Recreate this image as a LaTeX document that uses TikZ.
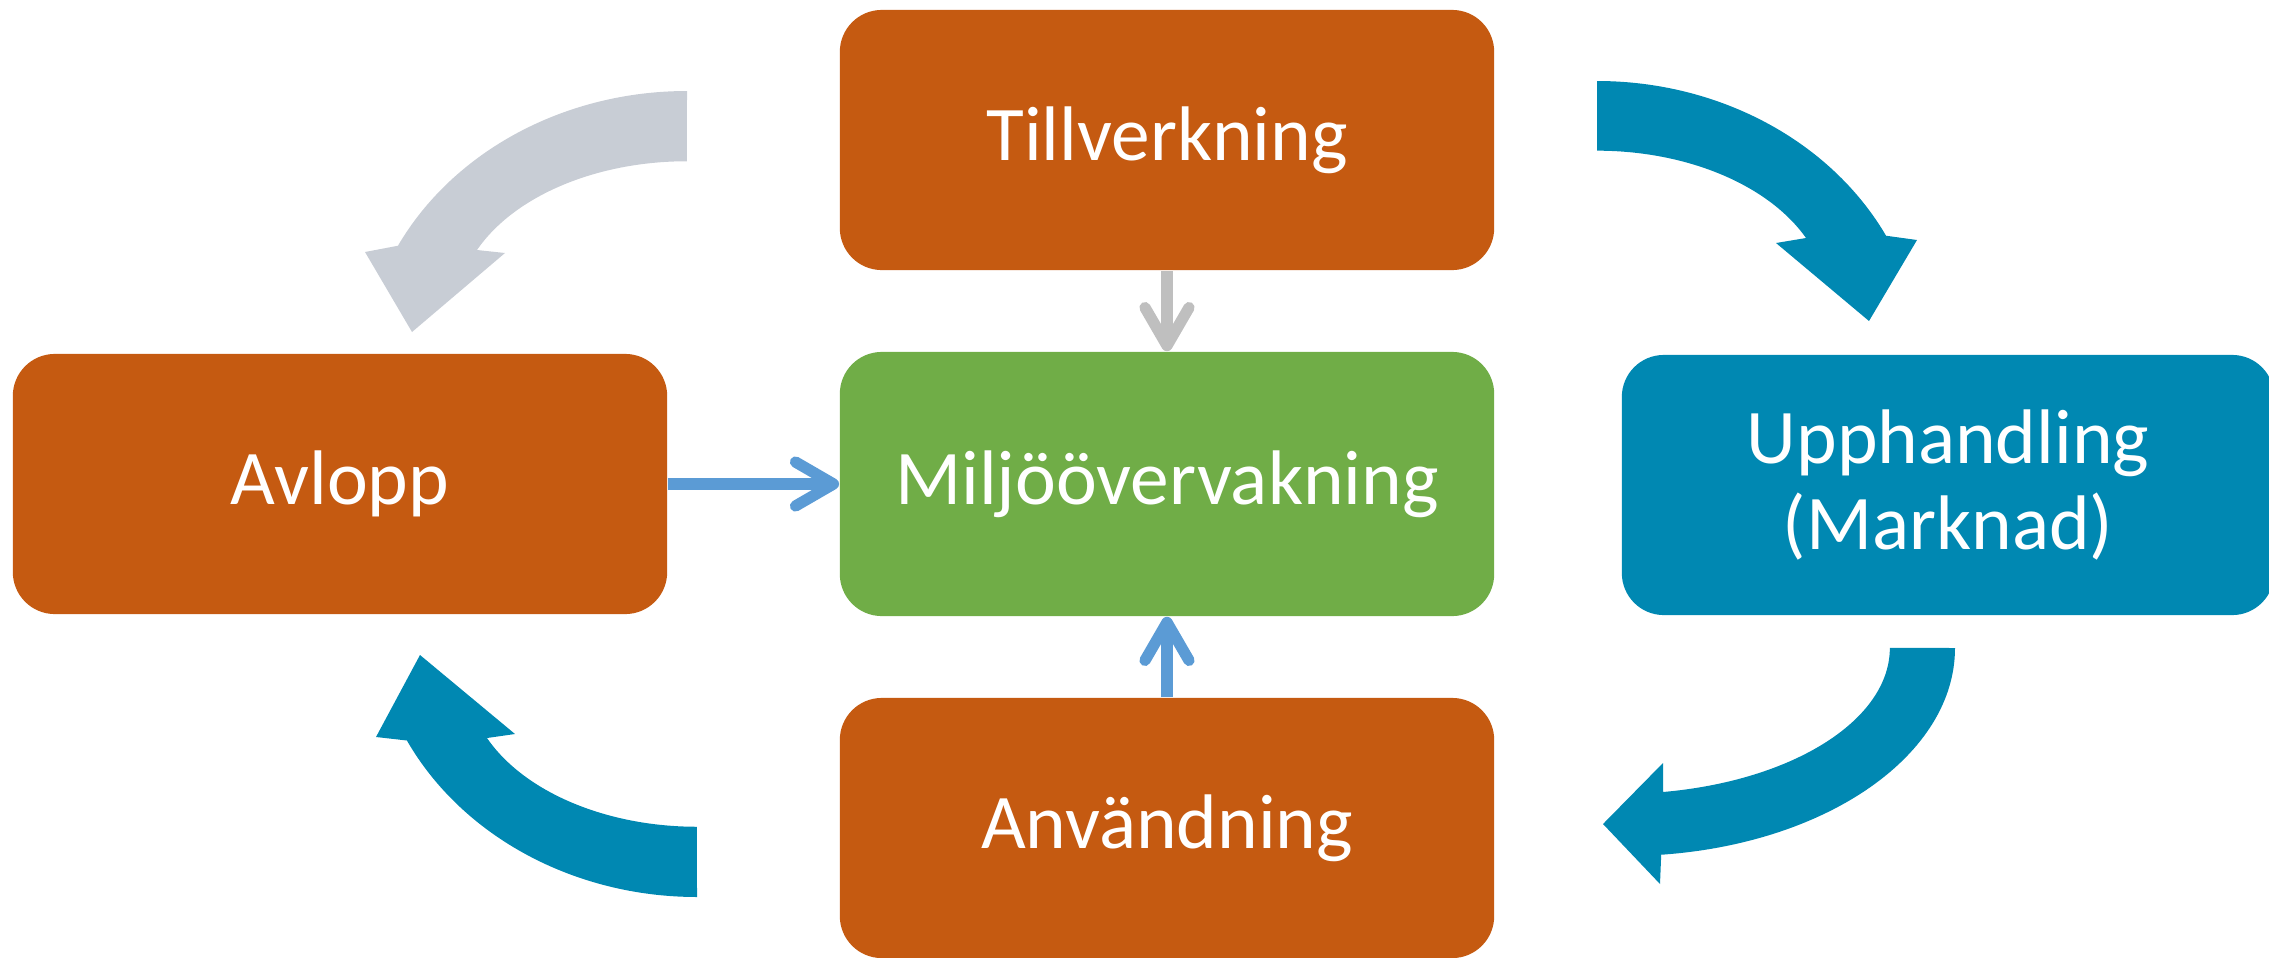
\documentclass[tikz,border=0pt]{standalone}
\usepackage{fontspec}
\setmainfont{Carlito}
\usetikzlibrary{arrows.meta}
\definecolor{rust}{HTML}{C55A11}
\definecolor{leaf}{HTML}{70AD47}
\definecolor{sea}{HTML}{0088B2}
\definecolor{mist}{HTML}{C8CDD5}
\definecolor{steel}{HTML}{BFBFBF}
\definecolor{sky}{HTML}{5B9BD5}

\begin{document}
\begin{tikzpicture}[x = 0.01cm, y = -0.01cm,
  stage/.style = {rectangle, rounded corners = 0.42cm, fill = rust, text = white,
    minimum width = 6.54cm, minimum height = 2.6cm, align = center, inner sep = 0pt,
    font = \fontsize{22}{24.5}\selectfont},
  feed/.style = {line width = 3.2pt, -{Straight Barb[round, length = 0.38cm, width = 0.44cm]}}]
\useasboundingbox (0, 0) rectangle (2269, 957);
%\draw[very thin, color = gray] (0, 0) grid[step = 100] (2269, 957);
\node[stage] (till) at (1167, 140) {Tillverkning};
\node[stage, fill = leaf, minimum height = 2.64cm] (milj) at (1167, 484) {Miljöövervakning};
\node[stage] (avlopp) at (340, 484) {Avlopp};
\node[stage, fill = sea, minimum width = 6.52cm] (upph) at (1948, 485) {Upphandling\\(Marknad)};
\node[stage] (anv) at (1167, 828) {Användning};
\draw[feed, steel] (till) -- (milj);
\draw[feed, sky] (avlopp) -- (milj);
\draw[feed, sky] (anv) -- (milj);
% curved block arrows
\fill[mist] (687, 91) arc[start angle = -90, end angle = -152.8, x radius = 325, y radius = 285]
  -- (365, 252) -- (412, 332) -- (505, 253) -- (477, 250)
  arc[start angle = -155.9, end angle = -90, x radius = 230, y radius = 150] -- cycle;
\fill[sea] (1597, 81) arc[start angle = -90, end angle = -27.2, x radius = 325, y radius = 285]
  -- (1917, 240) -- (1869, 321) -- (1776, 243) -- (1806, 238)
  arc[start angle = -24.7, end angle = -90, x radius = 230, y radius = 150] -- cycle;
\fill[sea] (1955, 648) arc[start angle = 0, end angle = 83.7, x radius = 330, y radius = 208]
  -- (1660, 884) -- (1603, 824) -- (1663, 763) -- (1663, 792)
  arc[start angle = 80.8, end angle = 0, x radius = 270, y radius = 146] -- cycle;
\fill[sea] (697, 897) arc[start angle = 90, end angle = 153.2, x radius = 325, y radius = 285]
  -- (376, 737) -- (420, 655) -- (515, 734) -- (487, 738)
  arc[start angle = 155.9, end angle = 90, x radius = 230, y radius = 150] -- cycle;
\end{tikzpicture}
\end{document}
